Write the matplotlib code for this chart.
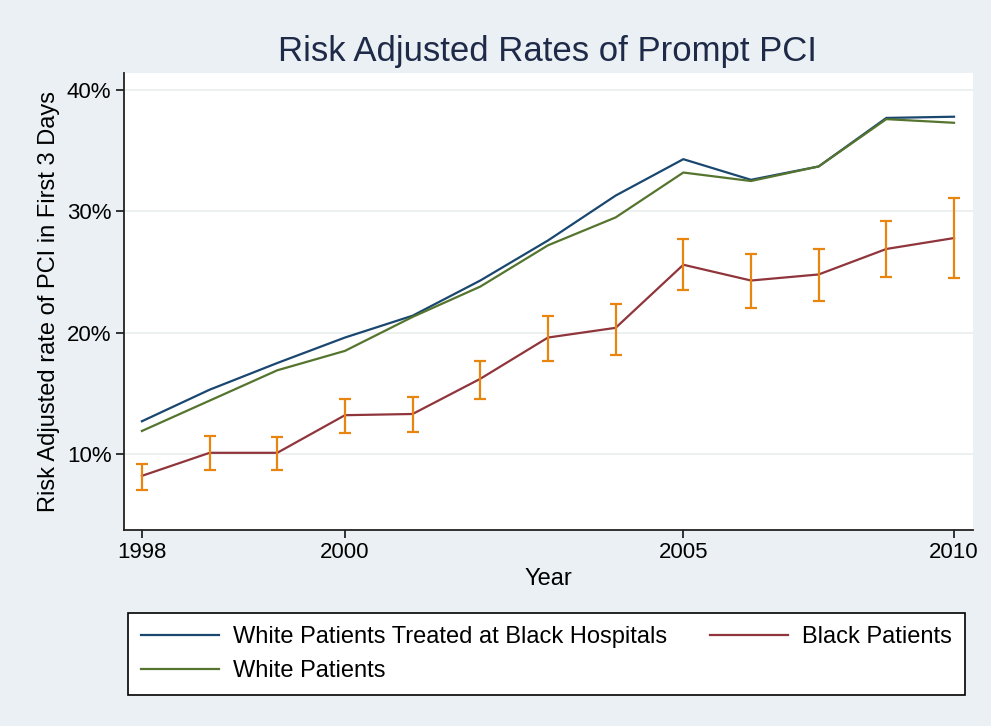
import numpy as np
import matplotlib
matplotlib.use("Agg")
import matplotlib.pyplot as plt
from matplotlib.ticker import FuncFormatter

plt.rcParams['font.family'] = ['Liberation Sans', 'DejaVu Sans']

# 13 yearly points, equally spaced; the axis labels sit where the source put them
x_index = np.arange(13)
tick_pos = [0, 3, 8, 12]
tick_labels = ["1998", "2000", "2005", "2010"]

white_black_hosp = [12.7, 15.3, 17.5, 19.6, 21.4, 24.3, 27.6, 31.3, 34.3, 32.6, 33.7, 37.7, 37.8]
white = [11.9, 14.4, 16.9, 18.5, 21.3, 23.8, 27.2, 29.5, 33.2, 32.5, 33.7, 37.6, 37.3]
black = [8.2, 10.1, 10.1, 13.2, 13.3, 16.2, 19.6, 20.4, 25.6, 24.3, 24.8, 26.9, 27.8]
black_hi = [9.2, 11.5, 11.4, 14.5, 14.7, 17.7, 21.4, 22.4, 27.7, 26.5, 26.9, 29.2, 31.1]
black_lo = [7.0, 8.7, 8.7, 11.7, 11.8, 14.5, 17.7, 18.2, 23.5, 22.0, 22.6, 24.6, 24.5]

bg = "#eaf0f3"
blue = "#1a476f"
red = "#90353b"
green = "#55752f"
orange = "#e8850f"

fig = plt.figure(figsize=(9.91, 7.26), dpi=100, facecolor=bg)
ax = fig.add_axes([0.1251, 0.2700, 0.8567, 0.6294])
ax.set_facecolor("white")

for v in [10, 20, 30, 40]:
    ax.axhline(v, color="#e9edef", lw=1.2, zorder=0)

black_arr = np.array(black)
yerr = [black_arr - np.array(black_lo), np.array(black_hi) - black_arr]

l1, = ax.plot(x_index, white_black_hosp, color=blue, lw=1.6, zorder=3)
l3, = ax.plot(x_index, white, color=green, lw=1.6, zorder=3)
l2, = ax.plot(x_index, black, color=red, lw=1.6, zorder=3)
ax.errorbar(x_index, black, yerr=yerr, fmt="none", ecolor=orange,
            elinewidth=1.6, capsize=4, capthick=1.6, zorder=4)

ax.set_xlim(-0.265, 12.28)
ax.set_ylim(3.74, 41.4)
ax.set_xticks(tick_pos)
ax.set_xticklabels(tick_labels)
ax.set_yticks([10, 20, 30, 40])
ax.yaxis.set_major_formatter(FuncFormatter(lambda v, p: "%d%%" % v))

for s in ["top", "right"]:
    ax.spines[s].set_visible(False)
ax.spines["left"].set_color("#222222")
ax.spines["bottom"].set_color("#222222")
ax.spines["left"].set_linewidth(1.3)
ax.spines["bottom"].set_linewidth(1.3)
ax.tick_params(axis="both", labelsize=16, length=6, width=1.3, color="#222222", pad=3)

ax.set_xlabel("Year", fontsize=17, labelpad=3)
ax.set_ylabel("Risk Adjusted rate of PCI in First 3 Days", fontsize=17, labelpad=5)
fig.text(0.552, 0.929, "Risk Adjusted Rates of Prompt PCI", ha="center", va="center",
         fontsize=25, color="#1e2a48")

leg = fig.legend([l1, l3, l2],
                 ["White Patients Treated at Black Hospitals", "White Patients", "Black Patients"],
                 ncol=2, loc="upper left", bbox_to_anchor=(0.129, 0.0456, 0.845, 0.11),
                 mode="expand", fontsize=17, frameon=True, fancybox=False,
                 facecolor="white", framealpha=1.0,
                 edgecolor="black", handlelength=3.3, borderaxespad=0,
                 handletextpad=0.6, labelspacing=0.5, borderpad=0.55)
leg.get_frame().set_linewidth(1.2)

fig.savefig("out.png", dpi=100, facecolor=bg)
